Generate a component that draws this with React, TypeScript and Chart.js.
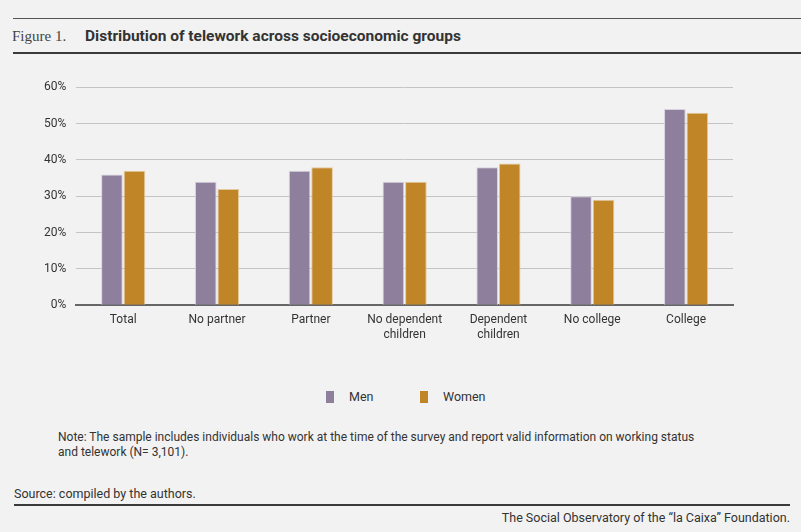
import { useEffect, useRef } from 'react';
import { Chart, registerables } from 'chart.js';

Chart.register(...registerables);

// categories and values (telework share, %)
const groups: (string | string[])[] = [
  'Total',
  'No partner',
  'Partner',
  ['No dependent', 'children'],
  ['Dependent', 'children'],
  'No college',
  'College',
];
const men = [36, 34, 37, 34, 38, 30, 54];
const women = [37, 32, 38, 34, 39, 29, 53];
const yTicks = [0, 10, 20, 30, 40, 50, 60];

const MEN = '#8e809c';
const WOMEN = '#c08527';
const INK = '#333333';
const SANS = 'Roboto, "Liberation Sans", sans-serif';

function TeleworkChart() {
  const canvasRef = useRef<HTMLCanvasElement>(null);
  const chartRef = useRef<Chart | null>(null);

  useEffect(() => {
    if (!canvasRef.current) return;
    const ctx = canvasRef.current.getContext('2d');
    if (!ctx) return;

    chartRef.current?.destroy();
    chartRef.current = new Chart(ctx, {
      type: 'bar',
      data: {
        labels: groups,
        datasets: [
          { label: 'Men', data: men, backgroundColor: MEN, borderColor: '#d8d2de', borderWidth: 1, borderSkipped: 'bottom' },
          { label: 'Women', data: women, backgroundColor: WOMEN, borderColor: '#e2c9a0', borderWidth: 1, borderSkipped: 'bottom' },
        ],
      },
      options: {
        animation: false,
        responsive: false,
        maintainAspectRatio: false,
        layout: { padding: { left: 34, right: 27, top: 10, bottom: 0 } },
        datasets: { bar: { categoryPercentage: 0.48, barPercentage: 0.96 } },
        plugins: {
          legend: { display: false },
          tooltip: { enabled: false },
        },
        scales: {
          x: {
            grid: { display: false, drawTicks: false },
            border: { display: true, color: '#666666', width: 2 },
            ticks: { color: INK, font: { family: SANS, size: 12 }, padding: 8, maxRotation: 0, autoSkip: false },
          },
          y: {
            min: 0,
            max: 60,
            afterBuildTicks: (axis) => { axis.ticks = yTicks.map((v) => ({ value: v })); },
            grid: { color: '#c4c4c4', lineWidth: 1, drawTicks: false },
            border: { display: false },
            ticks: {
              color: INK,
              font: { family: SANS, size: 12 },
              padding: 10,
              callback: (v) => `${v}%`,
            },
          },
        },
      },
    });

    return () => { chartRef.current?.destroy(); };
  }, []);

  return <canvas ref={canvasRef} width={760} height={280} style={{ width: 760, height: 280 }} />;
}

export default function App() {
  useEffect(() => {
    document.body.style.margin = '0';
    document.body.style.background = '#f2f2f2';
  }, []);

  const legendItem = (left: number, color: string, text: string) => (
    <div style={{ position: 'absolute', left, top: 389, fontFamily: SANS, fontSize: 12.5, color: INK, whiteSpace: 'nowrap' }}>
      <span style={{ display: 'inline-block', width: 8, height: 12, background: color, marginRight: 15, verticalAlign: -2 }} />
      {text}
    </div>
  );

  return (
    <div style={{ position: 'absolute', left: 0, top: 0, width: 801, height: 532, background: '#f2f2f2', overflow: 'hidden', color: INK }}>
      <div style={{ position: 'absolute', left: 13, right: 0, top: 18, height: 1, background: '#555' }} />
      <div style={{ position: 'absolute', left: 12, top: 28, fontFamily: '"Liberation Serif", "DejaVu Serif", serif', fontSize: 15, color: '#444' }}>
        Figure 1.
      </div>
      <div style={{ position: 'absolute', left: 85, top: 27, fontFamily: SANS, fontWeight: 700, fontSize: 15.5, color: INK }}>
        Distribution of telework across socioeconomic groups
      </div>
      <div style={{ position: 'absolute', left: 13, right: 0, top: 52, height: 2, background: '#3a3a3a' }} />

      <div style={{ position: 'absolute', left: 0, top: 70 }}>
        <TeleworkChart />
      </div>

      {legendItem(326, MEN, 'Men')}
      {legendItem(420, WOMEN, 'Women')}

      <div style={{ position: 'absolute', left: 58, top: 430, width: 720, fontFamily: SANS, fontSize: 12, lineHeight: '15px', color: INK }}>
        Note: The sample includes individuals who work at the time of the survey and report valid information on working status
        <br />
        and telework (N= 3,101).
      </div>

      <div style={{ position: 'absolute', left: 14, top: 486, fontFamily: SANS, fontSize: 12.5, color: INK }}>
        Source: compiled by the authors.
      </div>
      <div style={{ position: 'absolute', left: 14, width: 776, top: 504, height: 2, background: '#3a3a3a' }} />
      <div style={{ position: 'absolute', right: 11, top: 510, fontFamily: SANS, fontSize: 12.5, color: INK }}>
        The Social Observatory of the “la Caixa” Foundation.
      </div>
    </div>
  );
}
